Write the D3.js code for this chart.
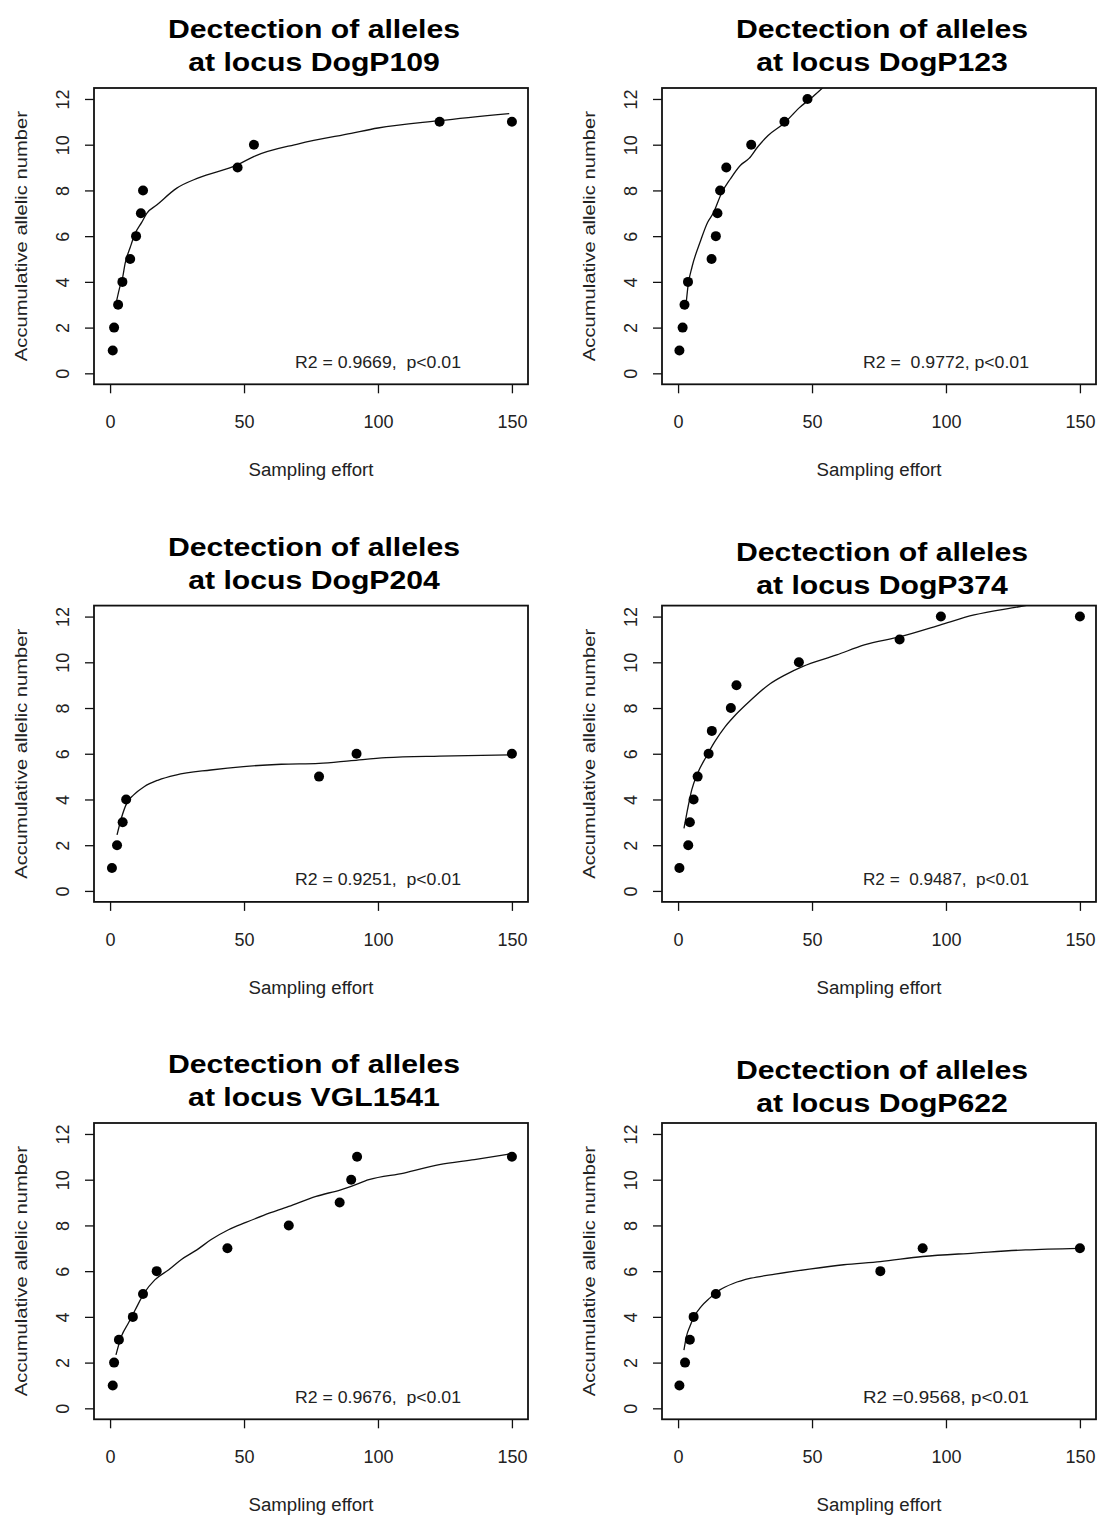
<!DOCTYPE html>
<html>
<head>
<meta charset="utf-8">
<script src="https://cdn.jsdelivr.net/npm/d3@7"></script>
<style>
  body { margin: 0; background: #fff; }
  text { font-family: "Liberation Sans", Arial, Helvetica, sans-serif; white-space: pre; }
</style>
</head>
<body>
<script>
// ---------------- DATA ----------------
const loci = ["DogP109", "DogP123", "DogP204", "DogP374", "VGL1541", "DogP622"];
const titleLine1 = "Dectection of alleles";
const xLabel = "Sampling effort";
const yLabel = "Accumulative allelic number";
const r2Labels = [
  "R2 = 0.9669,  p<0.01",
  "R2 =  0.9772, p<0.01",
  "R2 = 0.9251,  p<0.01",
  "R2 =  0.9487,  p<0.01",
  "R2 = 0.9676,  p<0.01",
  "R2 =0.9568, p<0.01"
];
const xTicks = [0, 50, 100, 150];
const yTicks = [0, 2, 4, 6, 8, 10, 12];

// observed points (sampling effort, accumulative allelic number)
const effort_DogP109 = [1, 1.5, 3, 4.6, 7.5, 9.7, 11.5, 12.3, 47.6, 53.7, 123, 150];
const alleles_DogP109 = [1, 2, 3, 4, 5, 6, 7, 8, 9, 10, 11, 11];
const effort_DogP123 = [0.5, 1.7, 2.4, 3.7, 12.5, 14.1, 14.7, 15.7, 18, 27.3, 39.7, 48.3];
const alleles_DogP123 = [1, 2, 3, 4, 5, 6, 7, 8, 9, 10, 11, 12];
const effort_DogP204 = [0.7, 2.6, 4.7, 6, 78, 92, 150];
const alleles_DogP204 = [1, 2, 3, 4, 5, 6, 6];
const effort_DogP374 = [0.5, 3.8, 4.4, 5.8, 7.3, 11.4, 12.6, 19.7, 21.8, 45.1, 82.7, 98.1, 150];
const alleles_DogP374 = [1, 2, 3, 4, 5, 6, 7, 8, 9, 10, 11, 12, 12];
const effort_VGL1541 = [1, 1.5, 3.3, 8.5, 12.3, 17.4, 43.8, 66.7, 85.7, 90, 92.2, 150];
const alleles_VGL1541 = [1, 2, 3, 4, 5, 6, 7, 8, 9, 10, 11, 11];
const effort_DogP622 = [0.5, 2.6, 4.4, 5.8, 14.1, 75.5, 91.3, 150];
const alleles_DogP622 = [1, 2, 3, 4, 5, 6, 7, 7];

// fitted curves
const fitX_DogP109 = [2.5, 3.7, 4.7, 5.6, 7.5, 9.3, 11.8, 13.7, 17.4, 24.9, 33, 47.6, 53.8, 70.4, 90, 100, 122.9, 149];
const fitY_DogP109 = [3.2, 3.8, 4.2, 4.8, 5.5, 6.1, 6.6, 7.0, 7.36, 8.1, 8.55, 9.12, 9.49, 10.04, 10.5, 10.73, 11.05, 11.36];
const fitX_DogP123 = [2.8, 3.8, 5.2, 8.4, 11, 13.1, 16.3, 19.5, 23.3, 26.5, 29.7, 33.6, 39.7, 45.1, 50.3, 55];
const fitY_DogP123 = [2.8, 3.9, 4.65, 5.8, 6.6, 7.0, 7.9, 8.5, 9.1, 9.4, 9.9, 10.4, 10.95, 11.6, 12.1, 12.6];
const fitX_DogP204 = [2.6, 4.2, 6.2, 8.8, 12.7, 18, 24.5, 37.6, 49.8, 63.9, 78, 90, 103, 123, 149.7];
const fitY_DogP204 = [2.45, 3.18, 3.83, 4.2, 4.56, 4.85, 5.07, 5.29, 5.44, 5.54, 5.58, 5.7, 5.83, 5.9, 5.95];
const fitX_DogP374 = [2.2, 3.5, 5.1, 7.3, 10.5, 13.7, 17.6, 20.8, 27.2, 33.6, 40, 46.4, 59.2, 69.5, 82.9, 97.7, 110.5, 127.2, 135];
const fitY_DogP374 = [2.74, 3.54, 4.42, 5.15, 5.87, 6.53, 7.19, 7.62, 8.35, 9.0, 9.45, 9.81, 10.32, 10.76, 11.12, 11.63, 12.07, 12.43, 12.6];
const fitX_VGL1541 = [2.2, 4.2, 6.8, 9.4, 12.7, 16.7, 21.9, 26.5, 32.4, 37.6, 44.2, 50.7, 57.3, 66.7, 76.9, 86.1, 90, 96.6, 109.7, 122.9, 136, 149];
const fitY_VGL1541 = [2.34, 3.14, 3.72, 4.31, 5.04, 5.62, 6.06, 6.5, 6.93, 7.37, 7.81, 8.13, 8.44, 8.83, 9.27, 9.56, 9.71, 10.0, 10.29, 10.66, 10.88, 11.12];
const fitX_DogP622 = [2.2, 3.1, 4.4, 6, 8.6, 11.8, 15.6, 20.8, 27.2, 36.2, 49, 61.8, 75.5, 91.3, 110.5, 129.7, 149.6];
const fitY_DogP622 = [2.55, 3.14, 3.58, 4.01, 4.45, 4.82, 5.18, 5.47, 5.69, 5.87, 6.09, 6.28, 6.42, 6.64, 6.79, 6.93, 7.0];

const panels = [
  { locus: loci[0], px: effort_DogP109, py: alleles_DogP109, fx: fitX_DogP109, fy: fitY_DogP109, r2: r2Labels[0] },
  { locus: loci[1], px: effort_DogP123, py: alleles_DogP123, fx: fitX_DogP123, fy: fitY_DogP123, r2: r2Labels[1] },
  { locus: loci[2], px: effort_DogP204, py: alleles_DogP204, fx: fitX_DogP204, fy: fitY_DogP204, r2: r2Labels[2] },
  { locus: loci[3], px: effort_DogP374, py: alleles_DogP374, fx: fitX_DogP374, fy: fitY_DogP374, r2: r2Labels[3] },
  { locus: loci[4], px: effort_VGL1541, py: alleles_VGL1541, fx: fitX_VGL1541, fy: fitY_VGL1541, r2: r2Labels[4] },
  { locus: loci[5], px: effort_DogP622, py: alleles_DogP622, fx: fitX_DogP622, fy: fitY_DogP622, r2: r2Labels[5] }
];

// ---------------- LAYOUT ----------------
const W = 1101, H = 1518;
const boxW = 434, boxH = 296.3;
const colLeft = [94, 662];
const rowTop = [88, 605.6, 1123];
const titleShift = [0, 0, 0, 5, 0, 6];
const textCol = "#222";

const svg = d3.select("body").append("svg")
  .attr("width", W).attr("height", H)
  .attr("viewBox", `0 0 ${W} ${H}`);

panels.forEach((p, i) => {
  const c = i % 2, r = Math.floor(i / 2);
  const left = colLeft[c], top = rowTop[r];
  const x = d3.scaleLinear().domain([-6, 156]).range([left, left + boxW]);
  const y = d3.scaleLinear().domain([-0.48, 12.48]).range([top + boxH, top]);
  const g = svg.append("g").attr("class", "panel");
  const cx = left + boxW / 2 + 3;

  // title
  const t1 = g.append("text").attr("x", cx).attr("y", top - 50 + titleShift[i])
    .attr("text-anchor", "middle").attr("font-weight", "bold").attr("font-size", 26)
    .attr("fill", "#000").text(titleLine1);
  const t2 = g.append("text").attr("x", cx).attr("y", top - 17 + titleShift[i])
    .attr("text-anchor", "middle").attr("font-weight", "bold").attr("font-size", 26)
    .attr("fill", "#000").text("at locus " + p.locus);
  const n1 = t1.node().getComputedTextLength();
  const stretch = 292 / n1;
  t1.attr("textLength", 292).attr("lengthAdjust", "spacingAndGlyphs");
  const n2 = t2.node().getComputedTextLength();
  t2.attr("textLength", n2 * stretch).attr("lengthAdjust", "spacingAndGlyphs");

  // clip
  const clipId = "clip" + i;
  svg.append("clipPath").attr("id", clipId).append("rect")
    .attr("x", left).attr("y", top).attr("width", boxW).attr("height", boxH);

  // x axis
  const xa = g.append("g").attr("transform", `translate(0,${top + boxH})`)
    .call(d3.axisBottom(x).tickValues(xTicks).tickSize(9).tickPadding(22).tickFormat(d3.format("d")));
  xa.select(".domain").remove();
  xa.attr("font-family", null).attr("font-size", null);
  xa.selectAll("line").attr("stroke", "#111").attr("stroke-width", 1.3);
  xa.selectAll("text").attr("font-size", 18).attr("fill", textCol);

  // y axis
  const ya = g.append("g").attr("transform", `translate(${left},0)`)
    .call(d3.axisLeft(y).tickValues(yTicks).tickSize(9).tickFormat(d3.format("d")));
  ya.select(".domain").remove();
  ya.attr("font-family", null).attr("font-size", null);
  ya.selectAll("line").attr("stroke", "#111").attr("stroke-width", 1.3);
  ya.selectAll("text")
    .attr("transform", "rotate(-90)")
    .attr("x", 0).attr("y", -25).attr("dy", null)
    .attr("text-anchor", "middle")
    .attr("font-size", 18).attr("fill", textCol);

  // box
  g.append("rect").attr("x", left).attr("y", top).attr("width", boxW).attr("height", boxH)
    .attr("fill", "none").attr("stroke", "#111").attr("stroke-width", 1.8);

  // axis labels
  g.append("text").attr("x", left + boxW / 2).attr("y", top + boxH + 91.7)
    .attr("text-anchor", "middle").attr("font-size", 18).attr("fill", textCol)
    .attr("textLength", 125).attr("lengthAdjust", "spacingAndGlyphs")
    .text(xLabel);
  g.append("text")
    .attr("transform", `translate(${left - 67},${top + boxH / 2}) rotate(-90)`)
    .attr("text-anchor", "middle").attr("font-size", 17).attr("fill", textCol)
    .attr("textLength", 250).attr("lengthAdjust", "spacingAndGlyphs")
    .text(yLabel);

  // fitted curve
  const fit = p.fx.map((v, k) => [v, p.fy[k]]);
  g.append("path").datum(fit)
    .attr("clip-path", `url(#${clipId})`)
    .attr("fill", "none").attr("stroke", "#111").attr("stroke-width", 1.3)
    .attr("d", d3.line().x(d => x(d[0])).y(d => y(d[1])).curve(d3.curveMonotoneX));

  // points
  const pts = p.px.map((v, k) => [v, p.py[k]]);
  g.selectAll("circle.pt").data(pts).join("circle").attr("class", "pt")
    .attr("cx", d => x(d[0])).attr("cy", d => y(d[1])).attr("r", 5)
    .attr("fill", "#000");

  // R2 annotation
  g.append("text").attr("x", x(100)).attr("y", y(0.5) + 5.7)
    .attr("text-anchor", "middle").attr("font-size", 16).attr("fill", textCol)
    .attr("textLength", 166).attr("lengthAdjust", "spacingAndGlyphs")
    .text(p.r2);
});
</script>
</body>
</html>
